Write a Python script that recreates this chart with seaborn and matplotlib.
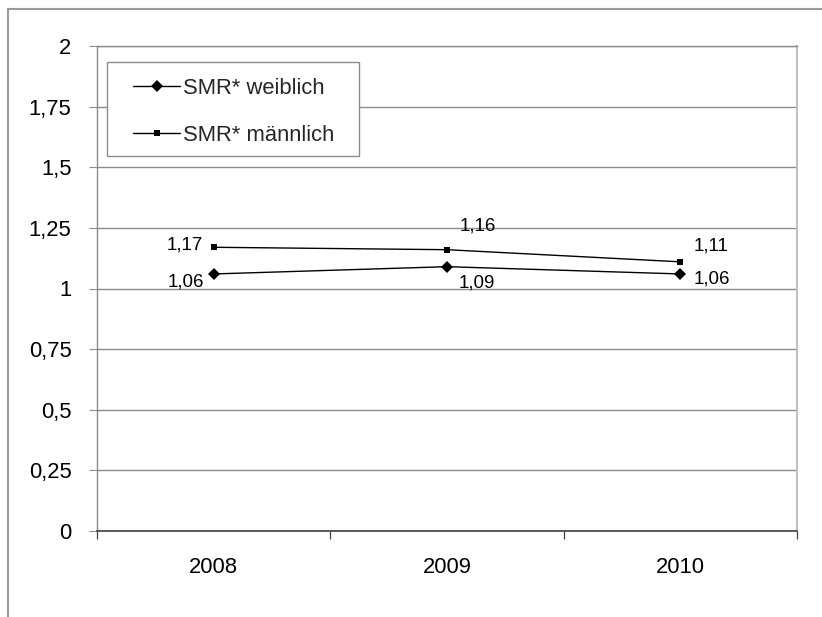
import matplotlib
matplotlib.use("Agg")
import matplotlib.pyplot as plt
from matplotlib.lines import Line2D
from matplotlib.patches import Rectangle
from matplotlib.ticker import FixedLocator, FuncFormatter
import seaborn as sns
import pandas as pd

# Standardised mortality ratio by year
years = ["2008", "2009", "2010"]
smr_weiblich = [1.06, 1.09, 1.06]
smr_maennlich = [1.17, 1.16, 1.11]
label_w = "SMR* weiblich"
label_m = "SMR* männlich"
y_ticks = [0, 0.25, 0.5, 0.75, 1, 1.25, 1.5, 1.75, 2]

sns.set_theme(style="white")
plt.rcParams["font.family"] = ["Liberation Sans", "DejaVu Sans"]

df_w = pd.DataFrame({"Jahr": years, "SMR": smr_weiblich})
df_m = pd.DataFrame({"Jahr": years, "SMR": smr_maennlich})

fig = plt.figure(figsize=(8.22, 6.17), dpi=100)
fig.patch.set_facecolor("white")
ax = fig.add_axes([97 / 822, 86 / 617, 700 / 822, 485 / 617])

sns.lineplot(data=df_w, x="Jahr", y="SMR", ax=ax, color="black", linewidth=1.0,
             marker="D", markersize=6, markeredgewidth=0, label=label_w, sort=False)
sns.lineplot(data=df_m, x="Jahr", y="SMR", ax=ax, color="black", linewidth=1.0,
             marker="s", markersize=5, markeredgewidth=0, label=label_m, sort=False)

ax.set_xlim(-0.5, len(years) - 0.5)
ax.set_ylim(0, 2)
ax.set_xlabel("")
ax.set_ylabel("")

# y axis: gridlines and comma decimals
ax.yaxis.set_major_locator(FixedLocator(y_ticks))
ax.yaxis.set_major_formatter(FuncFormatter(lambda v, p: f"{v:g}".replace(".", ",")))
ax.grid(axis="y", color="#8c8c8c", linewidth=1.0)
ax.set_axisbelow(True)
ax.tick_params(axis="y", which="major", length=5.8, width=0.8, color="#8c8c8c",
               pad=12.5, labelsize=15.8, labelcolor="black", left=True)

# x axis: labels at category centres, tick marks between categories
ax.tick_params(axis="x", which="major", length=0, pad=18.5, labelsize=15.8,
               labelcolor="black")
ax.xaxis.set_minor_locator(FixedLocator([i - 0.5 for i in range(len(years) + 1)]))
ax.tick_params(axis="x", which="minor", length=5.8, width=0.9, color="#404040",
               bottom=True)

for side in ["left", "top"]:
    ax.spines[side].set_color("#8c8c8c")
    ax.spines[side].set_linewidth(1.0)
ax.spines["right"].set_color("#c0c0c0")
ax.spines["right"].set_linewidth(1.5)
ax.spines["bottom"].set_color("#404040")
ax.spines["bottom"].set_linewidth(1.2)

# value labels
label_offsets_m = [(-11, -2, "right"), (13, 19, "left"), (13, 11, "left")]
label_offsets_w = [(-10, -13, "right"), (12, -21, "left"), (13, -10, "left")]
for vals, offs in [(smr_maennlich, label_offsets_m), (smr_weiblich, label_offsets_w)]:
    for i, (v, (dx, dy, ha)) in enumerate(zip(vals, offs)):
        ax.annotate(f"{v:.2f}".replace(".", ","), xy=(i, v), xytext=(dx, dy),
                    textcoords="offset pixels", ha=ha, va="baseline",
                    fontsize=13.5, color="black")

# legend box
ax.add_patch(Rectangle((10 / 700, 375 / 485), 252 / 700, 94 / 485,
                       transform=ax.transAxes, facecolor="white",
                       edgecolor="#8c8c8c", linewidth=1.0, zorder=4))
handles, labels = ax.get_legend_handles_labels()
ax.legend(handles, labels, loc="center left", bbox_to_anchor=(36 / 700, 419 / 485),
          frameon=False, borderpad=0, borderaxespad=0, fontsize=15.8,
          handlelength=2.15, handletextpad=0.15, labelspacing=1.18)

# outer chart border (left and top edges)
fig.add_artist(Line2D([8 / 822, 8 / 822], [0, 1 - 9 / 617], transform=fig.transFigure,
                      color="#9a9a9a", linewidth=1.5))
fig.add_artist(Line2D([8 / 822, 1], [1 - 9 / 617, 1 - 9 / 617], transform=fig.transFigure,
                      color="#9a9a9a", linewidth=1.5))

fig.savefig("out.png", dpi=100, facecolor="white")
